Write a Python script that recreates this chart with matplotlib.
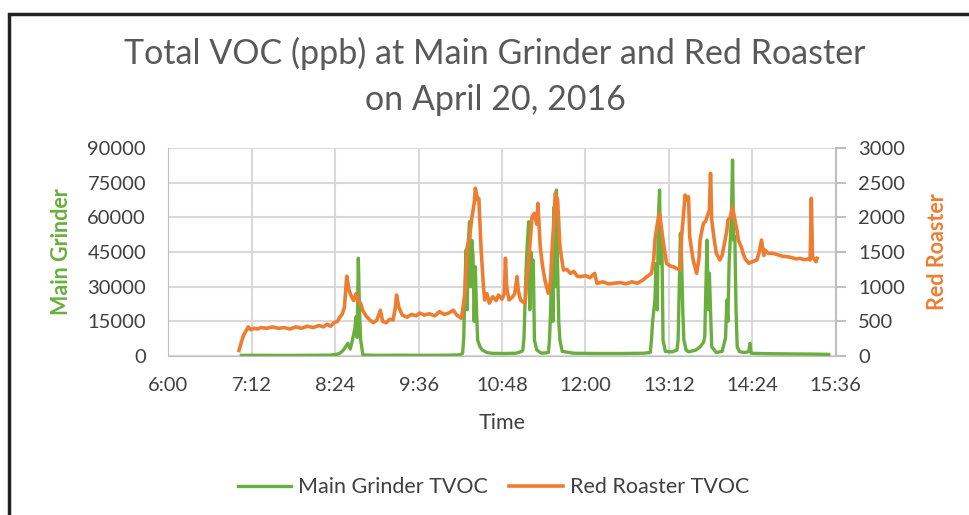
import matplotlib.pyplot as plt
from matplotlib.patches import Rectangle

plt.rcParams['font.family'] = ['Lato', 'DejaVu Sans']

# time in minutes after midnight, values in ppb
grinder_t = [423, 440, 460, 480, 500, 506, 508, 511, 513, 515, 517, 519, 521, 522, 523, 524, 525, 526, 528,
             540, 560, 580, 600, 612, 614, 615, 616, 617, 618, 619, 620, 621, 622, 623, 624, 625, 626, 627, 629,
             631, 635, 640, 650, 660, 665, 666, 667, 668, 669, 670, 671, 672, 673, 674, 675, 676, 678, 682,
             688, 689, 690, 691, 692, 693, 694, 695, 696, 697, 698, 700, 710, 730, 750, 770, 776, 777, 778,
             780, 781, 782, 783, 784, 785, 786, 787, 789, 795, 799, 800, 801, 802, 803, 804, 805, 807, 809,
             815, 819, 822, 823, 824, 825, 826, 827, 829, 833, 838, 841, 842, 843, 844, 846, 847, 848, 849,
             850, 851, 853, 858, 861, 862, 863, 870, 880, 900, 920, 930]
grinder_v = [300, 300, 250, 300, 400, 800, 1200, 2500, 4000, 5500, 3000, 7000, 12000, 17000, 8000, 42300,
             20000, 6900, 430, 300, 350, 300, 350, 500, 1200, 8000, 30000, 45900, 20000, 50000, 58100, 30000,
             50000, 43000, 15000, 38600, 20000, 6900, 4000, 2600, 1500, 1150, 1100, 1200, 2000, 2600, 8000,
             25000, 40000, 50000, 58100, 20000, 45000, 38600, 41500, 6900, 2600, 1200, 1500, 6900, 20000,
             40000, 15000, 64600, 30000, 71800, 38600, 15000, 6900, 2000, 1200, 1100, 1100, 1200, 1500, 6900,
             15000, 24200, 40000, 20000, 60000, 71800, 40000, 50200, 6900, 2000, 1800, 2600, 6900, 30000,
             53100, 43000, 20000, 6900, 2500, 1850, 2500, 4000, 6000, 8350, 30000, 50200, 20000, 35800, 4000,
             1500, 2000, 8000, 24200, 15000, 40000, 60000, 84800, 50000, 51600, 20000, 4000, 1850, 1500, 2000,
             5500, 1200, 1100, 1000, 900, 800, 700]

roaster_t = [421, 423, 425, 427, 429, 431, 434, 437, 440, 445, 450, 455, 460, 465, 470, 475, 480, 485, 490,
             494, 497, 500, 503, 506, 508, 510, 512, 514, 516, 518, 520, 522, 524, 526, 528, 531, 534, 537,
             540, 543, 545, 548, 551, 554, 556, 557, 559, 562, 566, 570, 574, 577, 581, 585, 590, 594, 598,
             602, 606, 609, 613, 616, 618, 620, 622, 624, 625, 627, 628, 630, 632, 633, 635, 637, 640, 643,
             645, 648, 650, 651, 652, 654, 657, 659, 661, 662, 664, 666, 668, 669, 671, 673, 674, 676, 678,
             679, 681, 683, 685, 688, 690, 691, 693, 694, 696, 698, 701, 704, 707, 710, 713, 716, 720, 724,
             728, 730, 735, 740, 744, 750, 755, 760, 765, 770, 773, 777, 779, 780, 782, 784, 786, 787, 789,
             790, 793, 796, 799, 802, 803, 805, 806, 808, 809, 810, 812, 813, 816, 818, 819, 821, 822, 824,
             825, 827, 828, 829, 831, 833, 836, 838, 840, 842, 843, 845, 847, 849, 851, 852, 855, 856, 858,
             861, 864, 868, 870, 872, 874, 875, 878, 882, 886, 890, 894, 898, 902, 905, 909, 912, 914, 915,
             916, 917, 919, 920]
roaster_v = [80, 200, 300, 360, 420, 380, 400, 390, 410, 400, 420, 400, 410, 390, 420, 400, 430, 410, 440,
             420, 460, 430, 480, 500, 560, 600, 700, 1150, 950, 860, 800, 900, 780, 760, 650, 570, 520, 480,
             520, 660, 500, 480, 530, 520, 700, 880, 700, 590, 560, 600, 580, 620, 590, 610, 580, 640, 600,
             620, 660, 590, 544, 900, 1577, 1700, 2000, 2200, 2420, 2250, 2275, 1530, 1000, 808, 900, 763,
             855, 800, 880, 820, 900, 1409, 1000, 808, 850, 900, 1144, 950, 808, 780, 763, 1000, 1385, 1800,
             2009, 2058, 1900, 2202, 1577, 1300, 1096, 904, 1100, 1481, 2000, 2347, 2250, 1577, 1240, 1250,
             1192, 1220, 1150, 1144, 1160, 1130, 1192, 1048, 1070, 1040, 1048, 1060, 1040, 1070, 1050, 1100,
             1144, 1192, 1400, 1673, 1900, 2058, 1800, 1673, 1450, 1336, 1300, 1288, 1260, 1240, 1721, 2100,
             2322, 2250, 2298, 1721, 1500, 1385, 1192, 1400, 1673, 1850, 1914, 1950, 2009, 2100, 2635, 1962,
             1700, 1481, 1385, 1450, 1625, 1800, 1962, 2000, 2154, 1962, 1800, 1673, 1550, 1481, 1400, 1337,
             1360, 1385, 1500, 1673, 1450, 1529, 1480, 1481, 1460, 1440, 1432, 1420, 1400, 1409, 1390, 1400,
             1385, 2275, 1420, 1409, 1360, 1409]

time_ticks = [360, 432, 504, 576, 648, 720, 792, 864, 936]
time_labels = ['6:00', '7:12', '8:24', '9:36', '10:48', '12:00', '13:12', '14:24', '15:36']
left_ticks = [0, 15000, 30000, 45000, 60000, 75000, 90000]
right_ticks = [0, 500, 1000, 1500, 2000, 2500, 3000]

green = '#6AAF3D'
orange = '#ED7D31'
grid_c = '#D9D9D9'
text_c = '#404040'

fig = plt.figure(figsize=(9.69, 5.15), dpi=100)
ax = fig.add_axes([0.1737, 0.3087, 0.6887, 0.4039])
ax2 = ax.twinx()

g_line, = ax.plot(grinder_t, grinder_v, color=green, lw=2.4, label='Main Grinder TVOC')
r_line, = ax2.plot(roaster_t, roaster_v, color=orange, lw=2.6, label='Red Roaster TVOC')

ax.set_xlim(360, 936)
ax.set_ylim(0, 90000)
ax2.set_ylim(0, 3000)
ax.set_xticks(time_ticks)
ax.set_xticklabels(time_labels)
ax.set_yticks(left_ticks)
ax2.set_yticks(right_ticks)
ax.grid(True, color=grid_c, lw=1.5)
ax.set_axisbelow(True)

for a in (ax, ax2):
    for s in a.spines.values():
        s.set_visible(False)
ax.spines['bottom'].set_visible(True)
ax.spines['bottom'].set_color('#BFBFBF')
ax.spines['left'].set_visible(True)
ax.spines['left'].set_color('#BFBFBF')
ax2.spines['right'].set_visible(True)
ax2.spines['right'].set_color('#BFBFBF')
ax2.spines['right'].set_linewidth(1.5)

ax.tick_params(axis='both', length=0, labelsize=14.5, labelcolor=text_c)
ax.tick_params(axis='y', pad=16)
ax.tick_params(axis='x', pad=15)
ax2.tick_params(axis='y', length=7, color='#BFBFBF', width=1.5, labelsize=14.5, labelcolor=text_c, pad=9)

ax.set_xlabel('Time', fontsize=15.5, color=text_c, labelpad=14)
ax.set_ylabel('Main Grinder', fontsize=15.5, color=green, fontweight='bold', labelpad=11)
ax2.set_ylabel('Red Roaster', fontsize=15.5, color=orange, fontweight='bold', labelpad=16)

fig.text(0.511, 0.852, 'Total VOC (ppb) at Main Grinder and Red Roaster\non April 20, 2016',
         ha='center', va='center', fontsize=24.5, color='#595959', linespacing=1.55)

fig.legend([g_line, r_line], ['Main Grinder TVOC', 'Red Roaster TVOC'], loc='center',
           bbox_to_anchor=(0.509, 0.054), ncol=2, frameon=False, fontsize=15.5, handlelength=2.5,
           handletextpad=0.3, columnspacing=1.0, labelcolor=text_c)

fig.patches.append(Rectangle((9 / 969, -0.1), 1.2, 1.1 - 14 / 515, transform=fig.transFigure,
                             fill=False, ec='#222222', lw=2.5))

fig.savefig('out.png', dpi=100)
